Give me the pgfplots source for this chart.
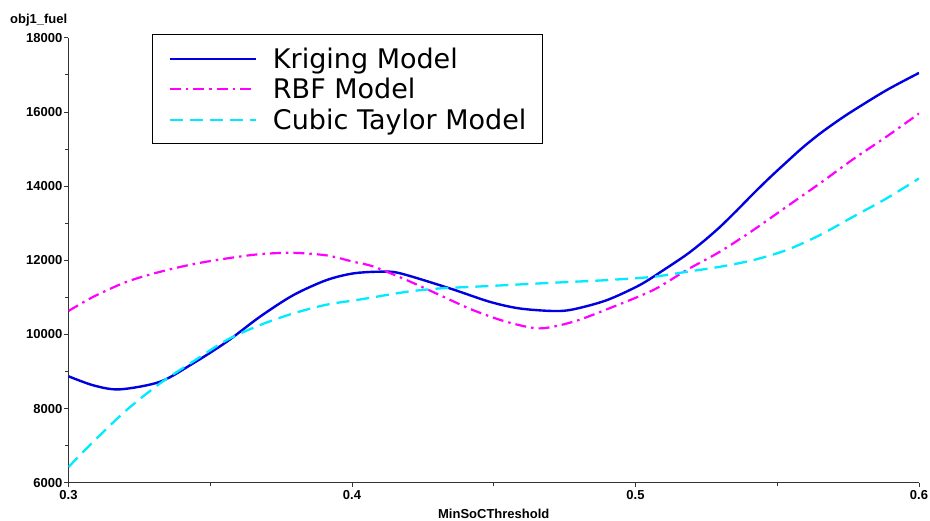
\documentclass[border=0pt]{standalone}
\usepackage{fontspec}
\setmainfont{Liberation Sans}
\newfontfamily\legendfont{DejaVu Sans}
\usepackage{pgfplots}
\pgfplotsset{compat=1.18}
\definecolor{kblue}{RGB}{0,0,225}
\definecolor{rmag}{RGB}{255,0,255}
\definecolor{tcyan}{RGB}{0,235,255}
\begin{document}
\begin{tikzpicture}
\begin{axis}[
  name=ax,
  scale only axis,
  width=850.5pt, height=445pt,
  xmin=0.3, xmax=0.6, ymin=6000, ymax=18000,
  axis lines=left,
  axis line style={-, black!80, line width=0.8pt},
  xtick={0.3,0.4,0.5,0.6},
  minor xtick={0.35,0.45,0.55},
  ytick={6000,8000,10000,12000,14000,16000,18000},
  minor ytick={7000,9000,11000,13000,15000,17000},
  tick align=outside,
  major tick length=4pt, minor tick length=3pt,
  tick style={black!80, line width=0.6pt},
  scaled ticks=false,
  /pgf/number format/assume math mode=true,
  xticklabel style={/pgf/number format/fixed, /pgf/number format/precision=1, /pgf/number format/fixed zerofill, inner ysep=4pt},
  yticklabel style={/pgf/number format/1000 sep={}, inner xsep=2pt},
  ticklabel style={font=\fontsize{13}{15}\selectfont\bfseries},
  xlabel={MinSoCThreshold},
  xlabel style={at={(axis description cs:0.5,-0.0795)}, anchor=base, inner sep=0pt, font=\fontsize{13}{15}\selectfont\bfseries},
  ylabel={obj1\_fuel},
  ylabel style={rotate=-90, at={(axis description cs:-0.0688,1.0324)}, anchor=base west, inner sep=0pt, font=\fontsize{13}{15}\selectfont\bfseries},
  legend style={at={(axis description cs:0.0981,1.008)}, anchor=north west,
    draw=black, line width=1.3pt, fill=white,
    font=\legendfont\fontsize{27}{30}\selectfont,
    inner xsep=16pt, inner ysep=11pt, column sep=16pt, row sep=4.5pt,
    nodes={inner xsep=0pt, inner ysep=2pt},
    cells={anchor=west}},
  legend image code/.code={\draw[#1] (0pt,0pt) -- (86pt,0pt);},
]
\addplot[kblue, line width=2.4pt, smooth] coordinates {
(0.3,8870) (0.309,8620) (0.3181,8517) (0.3323,8722) (0.344,9220) (0.3558,9800)
(0.3675,10474) (0.3793,11058) (0.391,11463) (0.4004,11643) (0.4098,11690)
(0.4168,11650) (0.4345,11240) (0.4485,10880) (0.459,10700) (0.4708,10630)
(0.4778,10670) (0.4898,10920) (0.5015,11330) (0.51,11740) (0.518,12150)
(0.524,12510) (0.5297,12890) (0.5356,13330) (0.5415,13790) (0.5474,14230)
(0.5532,14640) (0.559,15040) (0.565,15410) (0.571,15740) (0.5767,16030)
(0.5885,16583) (0.6,17050)
};
\addlegendentry{Kriging Model}
\addplot[rmag, line width=2.2pt, smooth, dash pattern=on 11pt off 5pt on 2.5pt off 5pt] coordinates {
(0.3,10630) (0.30875,11013) (0.3205,11417) (0.3323,11687) (0.344,11894) (0.3558,12047)
(0.3675,12163) (0.3793,12199) (0.391,12130) (0.4004,11960) (0.4075,11830)
(0.4193,11463) (0.431,11058) (0.4427,10654) (0.4545,10339) (0.4662,10161)
(0.478,10339) (0.4898,10673) (0.5062,11193) (0.518,11733) (0.5297,12226)
(0.5415,12810) (0.5532,13438) (0.565,14069) (0.5767,14720) (0.5885,15330) (0.6,15955)
};
\addlegendentry{RBF Model}
\addplot[tcyan, line width=2.3pt, smooth, dash pattern=on 13pt off 7pt] coordinates {
(0.3,6423) (0.30875,7105) (0.3205,7959) (0.3323,8679) (0.344,9270) (0.3558,9846)
(0.3675,10250) (0.3793,10565) (0.391,10800) (0.4028,10940) (0.4193,11148)
(0.431,11239) (0.4427,11283) (0.4545,11328) (0.4662,11374) (0.478,11418)
(0.4898,11463) (0.5062,11552) (0.518,11687) (0.5297,11822) (0.5415,12002)
(0.5532,12271) (0.565,12675) (0.5767,13169) (0.5885,13664) (0.6,14204)
};
\addlegendentry{Cubic Taylor Model}
\end{axis}
\pgfresetboundingbox
\path (ax.south west) ++(-68.5pt,-37.3pt) rectangle ++(930pt,520pt);
\end{tikzpicture}
\end{document}
